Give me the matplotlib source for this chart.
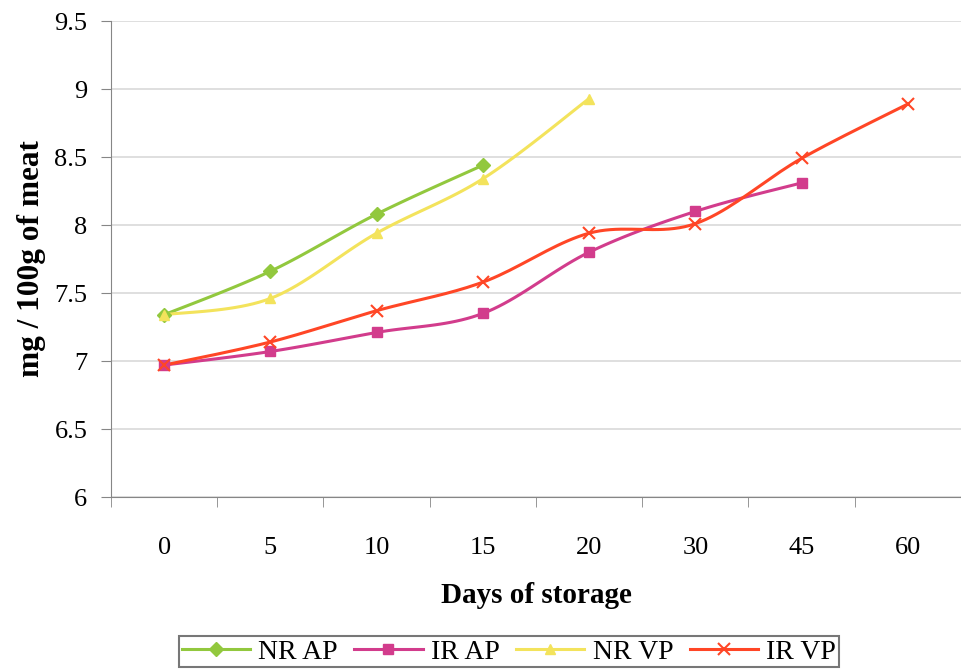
import numpy as np
import matplotlib
matplotlib.use("Agg")
import matplotlib.pyplot as plt
from matplotlib.ticker import FixedLocator

# Data
days = ["0", "5", "10", "15", "20", "30", "45", "60"]
nr_ap = [7.34, 7.66, 8.08, 8.44]
ir_ap = [6.97, 7.07, 7.21, 7.35, 7.80, 8.10, 8.31]
nr_vp = [7.34, 7.46, 7.94, 8.34, 8.93]
ir_vp = [6.97, 7.14, 7.37, 7.58, 7.94, 8.01, 8.49, 8.89]
y_ticks = [6, 6.5, 7, 7.5, 8, 8.5, 9, 9.5]

series = [
    ("NR AP", nr_ap, "#92C83E", "D"),
    ("IR AP", ir_ap, "#D23C8C", "s"),
    ("NR VP", nr_vp, "#F3E35C", "^"),
    ("IR VP", ir_vp, "#FF4626", "x"),
]


def smooth(y, n=20):
    # Catmull-Rom style curve through the points (like Excel's smoothed line)
    y = np.asarray(y, dtype=float)
    x = np.arange(len(y), dtype=float)
    px = np.concatenate([[x[0]], x, [x[-1]]])
    py = np.concatenate([[y[0]], y, [y[-1]]])
    xs, ys = [], []
    for i in range(1, len(px) - 2):
        t = np.linspace(0, 1, n, endpoint=(i == len(px) - 3))
        for arr, out in ((px, xs), (py, ys)):
            p0, p1, p2, p3 = arr[i - 1], arr[i], arr[i + 1], arr[i + 2]
            out.extend(0.5 * ((2 * p1) + (-p0 + p2) * t
                              + (2 * p0 - 5 * p1 + 4 * p2 - p3) * t ** 2
                              + (-p0 + 3 * p1 - 3 * p2 + p3) * t ** 3))
    return np.array(xs), np.array(ys)


plt.rcParams["font.family"] = ["Liberation Serif", "DejaVu Serif"]

fig = plt.figure(figsize=(9.61, 6.72), dpi=100)
ax = fig.add_axes([0.1155, 0.2604, 0.8845, 0.7083])

for label, vals, color, marker in series:
    ms = 9 if marker == "x" else 7
    sx, sy = smooth(vals)
    ax.plot(sx, sy, color=color, lw=2.2, zorder=3)
    ax.plot(np.arange(len(vals)), vals, linestyle="none", marker=marker,
            color=color, markersize=ms,
            markeredgewidth=1.5 if marker == "x" else 1, zorder=4)
    # proxy for legend
    ax.plot([], [], color=color, lw=2.2, marker=marker, markersize=ms,
            markeredgewidth=1.5 if marker == "x" else 1, label=label)

ax.set_xlim(-0.5, len(days) - 0.5)
ax.set_ylim(6, 9.5)
ax.set_yticks(y_ticks)
ax.set_yticklabels([f"{v:g}" for v in y_ticks])

ax.set_xticks(range(len(days)))
ax.set_xticklabels(days)
ax.xaxis.set_minor_locator(FixedLocator(np.arange(-0.5, len(days), 1)))
ax.tick_params(axis="x", which="major", length=0, pad=29, labelsize=19)
ax.tick_params(axis="x", which="minor", length=7, color="#868686")
ax.tick_params(axis="y", length=7, color="#868686", labelsize=19, pad=10)

ax.grid(axis="y", color="#D9D9D9", lw=1.2)
ax.set_axisbelow(True)
for s in ("top", "right"):
    ax.spines[s].set_visible(False)
for s in ("left", "bottom"):
    ax.spines[s].set_color("#868686")

ax.set_xlabel("Days of storage", fontsize=21, fontweight="bold", labelpad=16)
ax.set_ylabel("mg / 100g of meat", fontsize=22.5, fontweight="bold", labelpad=6)

handles, labels = ax.get_legend_handles_labels()
leg = fig.legend(handles, labels, loc="center", ncol=4,
                 bbox_to_anchor=(0.5297, 0.0298), fontsize=20, frameon=True,
                 fancybox=False, edgecolor="#555555", handlelength=2.45,
                 columnspacing=0.6, handletextpad=0.3, borderpad=0.1,
                 borderaxespad=0)
leg.get_frame().set_linewidth(1.5)

fig.savefig("out.png", dpi=100)
